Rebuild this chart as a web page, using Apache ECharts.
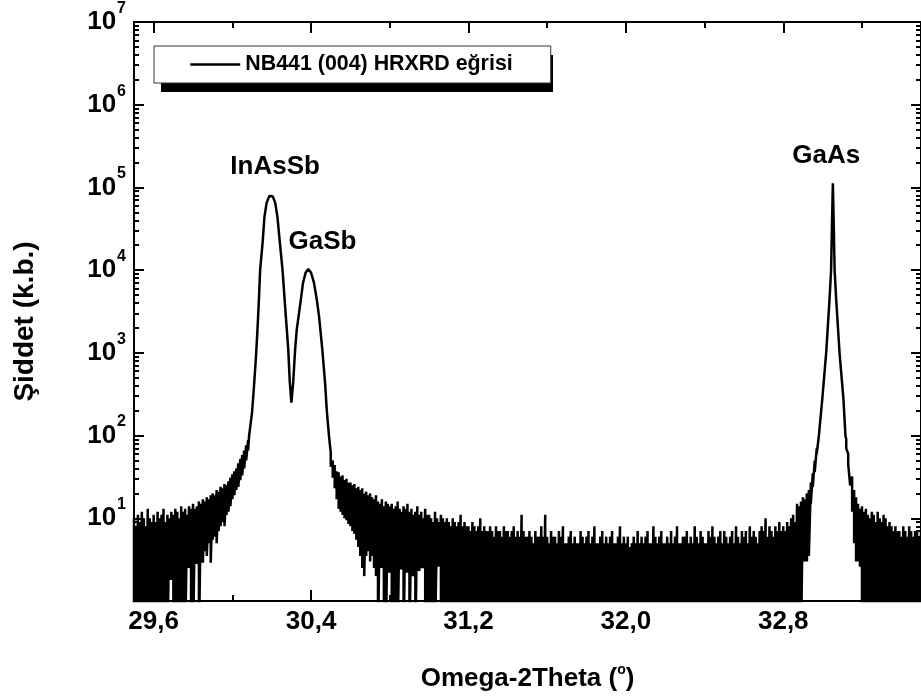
<!DOCTYPE html>
<html>
<head>
<meta charset="utf-8">
<title>NB441 (004) HRXRD</title>
<script src="https://cdn.jsdelivr.net/npm/echarts@6/dist/echarts.min.js"></script>
<style>
  html, body { margin: 0; padding: 0; background: #fff; }
  #chart { width: 921px; height: 697px; }
</style>
</head>
<body>
<div id="chart"></div>
<script>
// omega-2theta scan, sample NB441, (004) reflection
var seriesName = 'NB441 (004) HRXRD eğrisi';
var step = 0.01;      // scan step in the noisy parts (deg)
var FLOOR = 0.3;      // zero-count steps, drawn below the axis minimum

// left tail 29.50 .. 30.08 : top / bottom of the counts in each step
var leftStart = 29.50;
var leftTop = [
  10, 8, 11, 9, 12, 10, 8, 13, 10, 9,
  11, 9, 12, 10, 11, 13, 9, 11, 10, 12,
  11, 13, 12, 10, 14, 12, 13, 11, 14, 13,
  15, 13, 14, 16, 15, 17, 16, 18, 17, 19,
  20, 19, 22, 21, 24, 23, 26, 25, 28, 31,
  34, 37, 40, 46, 52, 58, 66, 76, 88
];
var leftLow = [
  0, 0, 0, 0, 0, 0, 0, 0, 0, 0,
  0, 0, 0, 0, 0, 0, 0, 0, 1.8, 1.8,
  0, 0, 0, 0, 0, 0, 0, 2.5, 2.5, 0,
  0, 2.8, 2.8, 0, 2.9, 2.9, 4, 3.5, 5, 2.9,
  5.5, 6, 5, 7, 8, 9, 8, 11, 12, 14,
  17, 19, 22, 24, 29, 33, 40, 50, 66
];

// InAsSb + GaSb double peak
var peakTheta = [
  30.085, 30.100, 30.110, 30.120, 30.128, 30.135, 30.141, 30.154, 30.163, 30.174,
  30.188, 30.196, 30.205, 30.218, 30.229, 30.241, 30.255, 30.264, 30.272, 30.284,
  30.292, 30.300, 30.309, 30.319, 30.327, 30.336, 30.348, 30.359, 30.372, 30.386,
  30.400, 30.415, 30.429, 30.441, 30.457, 30.471, 30.480, 30.490
];
var peakCounts = [
  100, 190, 400, 900, 2000, 4500, 10000, 22000, 44000, 65000,
  79000, 81000, 78000, 65000, 44000, 22000, 10000, 5000, 2700, 1100,
  436, 250, 436, 1100, 1900, 2700, 4400, 7000, 9300, 10300,
  9300, 7000, 4400, 2700, 1100, 436, 200, 105
];

// background between GaSb and GaAs, 30.50 .. 32.97
var midStart = 30.50;
var midTop = [
  62, 50, 44, 37, 36, 32, 33, 29, 30, 27,
  27, 25, 26, 23, 24, 22, 23, 20, 21, 19,
  20, 18, 17, 19, 16, 15, 17, 14, 16, 15,
  14, 15, 13, 14, 16, 13, 12, 14, 13, 15,
  12, 13, 11, 12, 14, 11, 12, 10, 13, 11,
  11, 10, 9, 12, 10, 9, 11, 10, 9, 10,
  9, 8, 10, 9, 8, 9, 11, 8, 9, 8,
  8, 7, 9, 8, 7, 8, 10, 7, 8, 7,
  7, 8, 7, 6, 8, 7, 7, 6, 8, 7,
  7, 6, 7, 8, 6, 7, 6, 11, 7, 6,
  6, 7, 6, 5, 7, 6, 6, 8, 6, 11,
  6, 5, 7, 6, 6, 5, 7, 6, 8, 5,
  5, 6, 7, 5, 6, 5, 5, 7, 6, 5,
  6, 7, 5, 6, 8, 5, 5, 6, 7, 5,
  6, 5, 6, 7, 5, 5, 6, 8, 5, 6,
  5, 6, 4.5, 5, 6, 5, 7, 5, 6, 5,
  6, 7, 5, 5, 8, 6, 5, 6, 7, 5,
  5, 6, 5, 7, 5, 6, 8, 5, 5, 6,
  6, 7, 5, 6, 5, 8, 6, 5, 7, 6,
  5, 5, 7, 6, 8, 6, 5, 6, 7, 5,
  7, 6, 5, 6, 7, 5, 8, 6, 5, 7,
  6, 7, 5, 8, 6, 7, 6, 5, 7, 8,
  7, 10, 6, 8, 7, 6, 8, 7, 9, 7,
  8, 7, 9, 8, 10, 11, 9, 15, 14, 16,
  18, 17, 20, 22, 27, 35, 50, 70
];
var midLow = [
  42, 31, 23, 17, 13, 12, 11, 10, 9.5, 8.5,
  8, 7, 6.5, 5.5, 4.5, 3.5, 2.5, 2, 3.5, 4,
  3, 3.5, 2.5, 2, 0, 2.5, 2.5, 0, 0, 2.2,
  2.2, 0, 0, 0, 0, 2.4, 2.4, 0, 2.2, 2.2,
  0, 2, 2, 0, 2.3, 2.3, 2.5, 2.5, 0, 0,
  0, 0, 0, 0, 2.6, 2.6, 0, 0, 0, 0,
  0, 0, 0, 0, 0, 0, 0, 0, 0, 0,
  0, 0, 0, 0, 0, 0, 0, 0, 0, 0,
  0, 0, 0, 0, 0, 0, 0, 0, 0, 0,
  0, 0, 0, 0, 0, 0, 0, 0, 0, 0,
  0, 0, 0, 0, 0, 0, 0, 0, 0, 0,
  0, 0, 0, 0, 0, 0, 0, 0, 0, 0,
  0, 0, 0, 0, 0, 0, 0, 0, 0, 0,
  0, 0, 0, 0, 0, 0, 0, 0, 0, 0,
  0, 0, 0, 0, 0, 0, 0, 0, 0, 0,
  0, 0, 0, 0, 0, 0, 0, 0, 0, 0,
  0, 0, 0, 0, 0, 0, 0, 0, 0, 0,
  0, 0, 0, 0, 0, 0, 0, 0, 0, 0,
  0, 0, 0, 0, 0, 0, 0, 0, 0, 0,
  0, 0, 0, 0, 0, 0, 0, 0, 0, 0,
  0, 0, 0, 0, 0, 0, 0, 0, 0, 0,
  0, 0, 0, 0, 0, 0, 0, 0, 0, 0,
  0, 0, 0, 0, 0, 0, 0, 0, 0, 0,
  0, 0, 0, 0, 0, 0, 0, 0, 0, 0,
  3, 3, 3, 3.5, 15, 24, 36, 60
];

// GaAs substrate peak
var gaasTheta = [32.981, 32.998, 33.018, 33.035, 33.043, 33.048, 33.052, 33.056, 33.061, 33.069, 33.086, 33.106, 33.116];
var gaasCounts = [100, 272, 1000, 4400, 10000, 40000, 112000, 40000, 10000, 4400, 1000, 272, 100];

// right tail 33.12 .. 33.50
var rightStart = 33.12;
var rightTop = [
  90, 60, 44, 32, 22, 18, 15, 13, 14, 12,
  13, 11, 10, 12, 11, 9, 12, 10, 9, 11,
  10, 8, 9, 8, 7, 8, 7, 7, 6, 8,
  7, 6, 8, 7, 6, 7, 7, 6, 7
];
var rightLow = [
  70, 45, 25, 12, 5, 3, 3, 2.6, 0, 0,
  0, 0, 0, 0, 0, 0, 0, 0, 0, 0,
  0, 0, 0, 0, 0, 0, 0, 0, 0, 0,
  0, 0, 0, 0, 0, 0, 0, 0, 0
];

var xMajor = [29.6, 30.4, 31.2, 32.0, 32.8];
var xMinor = [30.0, 30.8, 31.6, 32.4, 33.2];

var peakLabels = [
  { name: 'InAsSb', coord: [30.217, 1.77e5] },
  { name: 'GaSb', coord: [30.458, 2.17e4] },
  { name: 'GaAs', coord: [33.018, 2.41e5] }
];

var font = 'Liberation Sans, Arial, sans-serif';

function addBand(out, start, tops, lows) {
  for (var i = 0; i < tops.length; i++) {
    var x = +(start + i * step).toFixed(3);
    out.push([x, tops[i]]);
    if (lows[i] !== tops[i]) out.push([x, lows[i] > 0 ? lows[i] : FLOOR]);
  }
}
function addCurve(out, xs, ys) {
  for (var i = 0; i < xs.length; i++) out.push([xs[i], ys[i]]);
}

var scan = [];
addBand(scan, leftStart, leftTop, leftLow);
addCurve(scan, peakTheta, peakCounts);
addBand(scan, midStart, midTop, midLow);
addCurve(scan, gaasTheta, gaasCounts);
addBand(scan, rightStart, rightTop, rightLow);

// minor ticks of the log axis, in decades
var yMinor = [];
for (var n = 0; n < 7; n++) {
  for (var k = 2; k <= 9; k++) yMinor.push(n + Math.log10(k));
}

var axisLine = { show: true, lineStyle: { color: '#000', width: 2 } };

function xAx(pos, ticks, len, labels) {
  return {
    type: 'value', position: pos, min: 29.5, max: 33.5,
    axisLine: axisLine,
    axisTick: { show: true, inside: true, length: len, customValues: ticks, lineStyle: { color: '#000', width: 2 } },
    axisLabel: labels ? {
      show: true, customValues: ticks, margin: 8,
      color: '#000', fontSize: 26, fontWeight: 'bold', fontFamily: font,
      formatter: function (v) { return v.toFixed(1).replace('.', ','); }
    } : { show: false },
    splitLine: { show: false }
  };
}

var xAxes = [xAx('bottom', xMajor, 11, true), xAx('bottom', xMinor, 6, false),
             xAx('top', xMajor, 11, false), xAx('top', xMinor, 6, false)];
xAxes[0].name = 'Omega-2Theta ({s|o})';
xAxes[0].nameLocation = 'middle';
xAxes[0].nameGap = 62;
xAxes[0].nameTextStyle = {
  color: '#000', fontSize: 26, fontWeight: 'bold', fontFamily: font,
  rich: { s: { fontSize: 14, fontWeight: 'bold', fontFamily: font, padding: [0, 0, 18, 0] } }
};

function logAx(pos, labels) {
  return {
    type: 'log', logBase: 10, position: pos, min: 1, max: 1e7, splitNumber: 7,
    axisLine: axisLine,
    axisTick: { show: true, inside: true, length: 10, lineStyle: { color: '#000', width: 2 } },
    axisLabel: labels ? {
      show: true, margin: 8, color: '#000', fontSize: 26, fontWeight: 'bold', fontFamily: font,
      formatter: function (v) {
        var e = Math.round(Math.log10(v));
        return e === 0 ? '' : '{b|10}{s|' + e + '}';
      },
      rich: {
        b: { fontSize: 26, fontWeight: 'bold', fontFamily: font, color: '#000' },
        s: { fontSize: 16, fontWeight: 'bold', fontFamily: font, color: '#000', padding: [0, 0, 27, 1] }
      }
    } : { show: false },
    splitLine: { show: false }
  };
}
function minorAx(pos) {
  return {
    type: 'value', position: pos, min: 0, max: 7,
    axisLine: { show: false },
    axisTick: { show: true, inside: true, length: 5, customValues: yMinor, lineStyle: { color: '#000', width: 2 } },
    axisLabel: { show: false },
    splitLine: { show: false }
  };
}

var yAxes = [logAx('left', true), logAx('right', false), minorAx('left'), minorAx('right')];
yAxes[0].name = 'Şiddet (k.b.)';
yAxes[0].nameLocation = 'middle';
yAxes[0].nameGap = 95;
yAxes[0].nameTextStyle = { color: '#000', fontSize: 28, fontWeight: 'bold', fontFamily: font, padding: [0, 20, 0, 0] };

var chart = echarts.init(document.getElementById('chart'));
chart.setOption({
  animation: false,
  backgroundColor: '#fff',
  grid: { left: 134, top: 22, width: 790, height: 579 },
  // solid drop shadow behind the legend box
  graphic: [{
    type: 'rect', z: 1, silent: true,
    shape: { x: 161, y: 55, width: 392, height: 37 },
    style: { fill: '#000' }
  }],
  legend: {
    left: 154, top: 46, z: 5,
    padding: [8, 38, 8, 35],
    itemWidth: 50, itemHeight: 14,
    selectedMode: false,
    backgroundColor: '#fff', borderColor: '#333', borderWidth: 1,
    itemStyle: { opacity: 0 },
    lineStyle: { color: '#000', width: 2.5 },
    textStyle: { color: '#000', fontSize: 21.4, lineHeight: 21, fontWeight: 'bold', fontFamily: font },
    data: [seriesName]
  },
  xAxis: xAxes,
  yAxis: yAxes,
  series: [{
    name: seriesName,
    type: 'line',
    xAxisIndex: 0, yAxisIndex: 0,
    data: scan,
    symbol: 'none',
    showSymbol: false,
    lineStyle: { color: '#000', width: 2.5 },
    itemStyle: { color: '#000' },
    markPoint: {
      symbol: 'rect', symbolSize: 1,
      itemStyle: { color: 'transparent' },
      label: { show: true, position: 'inside', formatter: '{b}', color: '#000', fontSize: 26, fontWeight: 'bold', fontFamily: font },
      data: peakLabels
    }
  }]
});
</script>
</body>
</html>
